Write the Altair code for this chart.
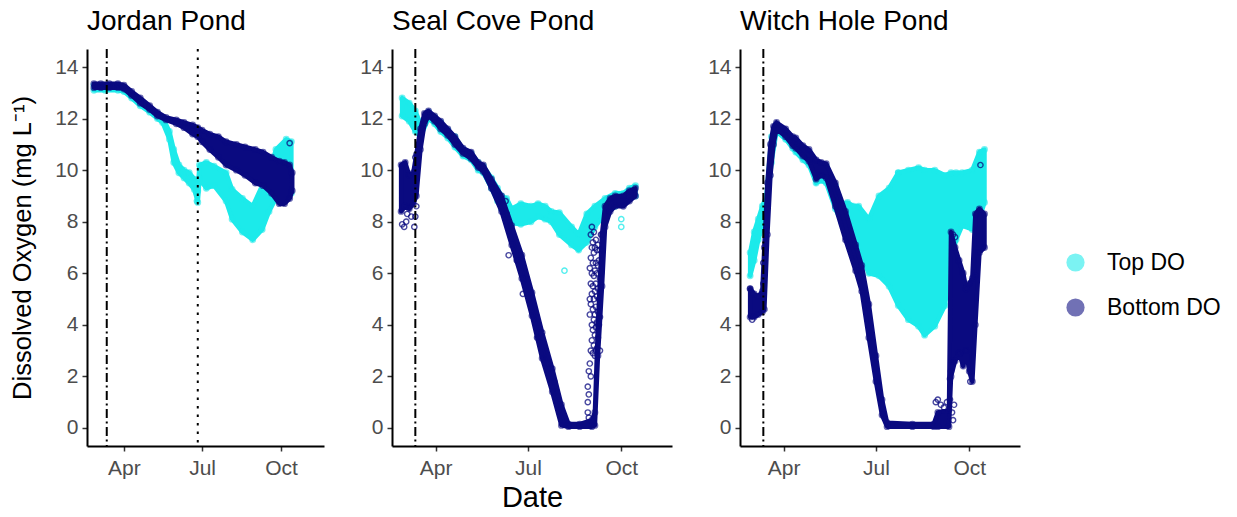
import altair as alt
import pandas as pd

YEAR = "2019-"
FONT = "Liberation Sans"
SERIES = ["Top DO", "Bottom DO"]
COLORS = ["#1CEAEA", "#0A0A80"]
X_TICKS = ["04-01", "07-01", "10-01"]
Y_TICKS = [0, 2, 4, 6, 8, 10, 12, 14]
EVENT_DASHDOT = "03-12"
EVENT_DOTTED = "06-26"

# ---------------- Jordan Pond ----------------
jordan_top_dates = ["02-25", "03-10", "03-25", "04-01", "04-10", "04-20", "05-01", "05-10", "05-16", "05-24",
                    "05-29", "06-04", "06-10", "06-16", "06-22", "06-26", "06-28", "07-06", "07-15", "07-29",
                    "08-05", "08-17", "08-29", "09-09", "09-17", "09-25", "10-07", "10-13"]
jordan_top_lo = [13.1, 13.1, 13.1, 13.05, 12.8, 12.5, 12.25, 12.0, 11.85, 11.2,
                 10.3, 9.9, 9.7, 9.5, 9.25, 8.75, 9.65, 9.3, 9.4, 8.8,
                 8.1, 7.6, 7.3, 7.7, 8.4, 8.9, 9.4, 9.1]
jordan_top_hi = [13.3, 13.25, 13.25, 13.2, 12.95, 12.7, 12.4, 12.2, 12.05, 11.5,
                 10.8, 10.2, 10.0, 9.9, 9.65, 9.2, 10.2, 10.3, 10.15, 9.9,
                 9.25, 8.9, 8.6, 9.4, 9.9, 10.8, 11.2, 11.1]
jordan_bot_dates = ["02-25", "03-05", "03-15", "03-25", "04-01", "04-10", "04-20", "05-01", "05-10", "05-20",
                    "06-01", "06-10", "06-20", "06-26", "07-01", "07-10", "07-20", "07-29", "08-10", "08-20",
                    "09-01", "09-10", "09-20", "09-29", "10-05", "10-11", "10-14"]
jordan_bot_lo = [13.2, 13.2, 13.2, 13.2, 13.15, 12.9, 12.6, 12.35, 12.1, 11.95,
                 11.8, 11.65, 11.4, 11.3, 11.1, 10.8, 10.5, 10.2, 10.0, 9.8,
                 9.5, 9.4, 9.1, 8.7, 8.7, 8.9, 9.2]
jordan_bot_hi = [13.35, 13.35, 13.35, 13.35, 13.3, 13.05, 12.8, 12.5, 12.25, 12.05,
                 11.95, 11.85, 11.75, 11.65, 11.55, 11.4, 11.3, 11.1, 11.0, 10.9,
                 10.8, 10.7, 10.5, 10.35, 10.3, 10.2, 9.9]
jordan_top_extra_dates = ["06-25", "06-25"]
jordan_top_extra_vals = [8.8, 9.1]
jordan_bot_extra_dates = ["10-11"]
jordan_bot_extra_vals = [11.05]

# ---------------- Seal Cove Pond ----------------
seal_top_dates = ["02-27", "03-06", "03-12", "03-17", "03-25", "03-31", "04-06", "04-13", "04-20", "04-28",
                  "05-06", "05-13", "05-18", "05-26", "06-01", "06-05", "06-10", "06-15", "06-24", "07-04",
                  "07-11", "07-18", "07-24", "08-01", "08-13", "08-20", "08-28", "09-05", "09-15", "09-25",
                  "10-03", "10-09", "10-15"]
seal_top_lo = [12.1, 11.9, 11.5, 11.3, 12.0, 11.8, 11.5, 11.25, 10.9, 10.55,
               10.4, 10.0, 9.9, 9.3, 8.8, 8.5, 8.1, 7.95, 7.9, 8.0,
               8.2, 8.1, 8.0, 7.5, 7.1, 6.9, 7.2, 7.8, 8.3, 8.6,
               8.7, 8.9, 9.0]
seal_top_hi = [12.8, 12.6, 12.3, 11.8, 12.25, 12.05, 11.85, 11.55, 11.3, 10.8,
               10.65, 10.3, 10.15, 9.7, 9.3, 9.0, 8.9, 8.5, 8.7, 8.6,
               8.7, 8.6, 8.4, 8.35, 7.8, 7.5, 8.3, 8.6, 8.9, 9.1,
               9.1, 9.3, 9.4]
seal_bot_dates = ["02-26", "03-02", "03-06", "03-10", "03-13", "03-17", "03-21", "03-25", "03-31", "04-06",
                  "04-13", "04-20", "04-28", "05-06", "05-13", "05-18", "05-26", "06-05", "06-15", "06-25",
                  "07-05", "07-15", "07-25", "08-03", "08-10", "08-21", "09-02", "09-05", "09-08", "09-12",
                  "09-15", "09-20", "09-25", "10-03", "10-09", "10-15"]
seal_bot_lo = [8.4, 8.6, 8.5, 8.7, 9.0, 10.8, 11.8, 12.1, 11.9, 11.6,
               11.35, 11.0, 10.65, 10.45, 10.1, 9.95, 9.3, 8.4, 7.1, 5.8,
               4.35, 2.7, 1.4, 0.1, 0.05, 0.05, 0.05, 0.1, 2.8, 5.5,
               7.8, 8.4, 8.6, 8.6, 8.8, 9.0]
seal_bot_hi = [10.2, 10.3, 9.8, 9.9, 10.6, 11.6, 12.2, 12.3, 12.1, 11.9,
               11.6, 11.3, 10.85, 10.7, 10.3, 10.2, 9.65, 9.0, 7.85, 6.7,
               5.25, 3.7, 2.3, 0.9, 0.15, 0.15, 0.3, 0.6, 4.0, 7.5,
               8.6, 8.9, 9.0, 9.0, 9.2, 9.3]
seal_top_extra_dates = ["08-06", "10-01", "10-01", "06-06"]
seal_top_extra_vals = [6.1, 7.8, 8.1, 8.8]
seal_bot_extra_dates = ["02-27", "03-01", "03-03", "03-11", "03-12", "03-08", "03-04", "03-13", "03-12",
                        "06-09", "06-10", "06-12", "06-20", "06-26", "07-10", "07-20", "07-27",
                        "08-29", "08-29", "08-29", "08-30", "08-30", "08-30",
                        "08-31", "08-31", "08-31", "08-31",
                        "09-01", "09-01", "09-01", "09-01", "09-01", "09-01",
                        "09-02", "09-02", "09-02", "09-02", "09-02", "09-02",
                        "09-03", "09-03", "09-03", "09-03", "09-03", "09-03",
                        "09-04", "09-04", "09-04", "09-04", "09-04", "09-04",
                        "09-05", "09-05", "09-05", "09-05", "09-05", "09-05",
                        "09-06", "09-06", "09-06", "09-06", "09-06", "09-06",
                        "09-07", "09-07", "09-07", "09-07", "09-07",
                        "09-08", "09-08", "09-08", "09-08", "09-08",
                        "09-09", "09-09", "09-09", "09-10", "09-10", "09-10", "09-10",
                        "09-11", "09-11"]
seal_bot_extra_vals = [7.9, 7.8, 8.0, 7.8, 8.2, 8.2, 8.3, 8.6, 10.5,
                       8.8, 8.3, 6.7, 6.5, 5.2, 3.5, 2.5, 1.8,
                       0.6, 1.0, 1.6, 2.2, 0.4, 1.3,
                       2.5, 5.0, 6.2, 4.4,
                       3.0, 5.6, 6.6, 7.5, 4.8, 2.0,
                       3.4, 6.0, 7.0, 5.2, 4.0, 7.8,
                       2.9, 4.6, 5.5, 6.4, 7.2, 3.8,
                       3.2, 4.2, 5.0, 5.9, 6.8, 7.6,
                       2.8, 3.6, 4.4, 5.3, 6.1, 7.0,
                       3.0, 3.9, 4.7, 5.6, 6.4, 7.3,
                       3.1, 4.1, 5.1, 6.0, 6.9,
                       3.5, 4.5, 5.4, 6.3, 7.1,
                       4.0, 5.0, 6.5, 3.0, 4.3, 5.8, 6.9,
                       6.0, 7.5]

# ---------------- Witch Hole Pond ----------------
witch_top_dates = ["02-27", "03-03", "03-07", "03-11", "03-15", "03-20", "03-25", "04-03", "04-10", "04-13",
                   "04-20", "04-26", "05-03", "05-08", "05-13", "05-22", "05-28", "06-03", "06-09", "06-14",
                   "06-24", "07-04", "07-14", "07-23", "08-02", "08-12", "08-18", "08-28", "09-07", "09-13",
                   "09-18", "09-24", "10-04", "10-11", "10-16"]
witch_top_lo = [5.9, 6.5, 7.3, 7.8, 8.3, 10.3, 11.5, 11.2, 10.85, 10.7,
                10.4, 10.2, 9.5, 9.6, 9.5, 8.5, 8.0, 7.9, 7.6, 6.8,
                6.0, 5.9, 5.5, 4.75, 4.2, 3.95, 3.6, 3.95, 4.75, 6.5,
                7.3, 7.85, 7.7, 8.1, 8.75]
witch_top_hi = [6.8, 7.6, 8.1, 8.6, 9.0, 11.3, 11.75, 11.5, 11.2, 11.1,
                10.85, 10.7, 10.3, 10.2, 10.15, 9.4, 8.7, 8.75, 8.6, 8.6,
                8.1, 9.0, 9.3, 9.9, 10.0, 10.1, 10.0, 10.0, 9.8, 9.9,
                9.9, 9.9, 10.0, 10.7, 10.8]
witch_bot_dates = ["02-27", "03-03", "03-07", "03-11", "03-13", "03-16", "03-19", "03-22", "03-25", "04-03",
                   "04-10", "04-13", "04-20", "04-26", "05-03", "05-08", "05-13", "05-22", "06-01", "06-11",
                   "06-17", "06-24", "07-01", "07-07", "07-12", "08-06", "08-27", "08-31", "09-11", "09-13",
                   "09-17", "09-21", "09-25", "09-28", "10-01", "10-04", "10-07", "10-11", "10-16"]
witch_bot_lo = [4.3, 4.3, 4.4, 4.5, 4.6, 7.5, 9.8, 11.0, 11.6, 11.3,
                10.95, 10.85, 10.55, 10.35, 9.65, 9.8, 9.7, 8.6, 7.3, 6.1,
                5.3, 3.5, 1.8, 0.5, 0.05, 0.05, 0.05, 0.05, 0.05, 2.0,
                2.6, 2.9, 2.4, 3.0, 2.2, 1.8, 4.0, 6.8, 7.0]
witch_bot_hi = [5.4, 5.2, 5.1, 5.3, 7.0, 9.5, 11.0, 11.7, 11.85, 11.6,
                11.3, 11.25, 10.95, 10.8, 10.4, 10.3, 10.25, 9.5, 8.4, 7.1,
                6.3, 4.8, 2.8, 1.1, 0.2, 0.15, 0.15, 0.6, 0.7, 7.6,
                7.0, 6.5, 6.0, 5.4, 5.6, 5.8, 8.3, 8.5, 8.3]
witch_top_extra_dates = ["07-23"]
witch_top_extra_vals = [9.9]
witch_bot_extra_dates = ["08-29", "08-31", "09-03", "09-06", "09-09", "09-12", "09-14", "09-15", "09-16",
                         "09-12", "09-13", "09-14", "09-15", "09-17", "10-02", "10-12", "10-07",
                         "02-27", "03-01", "03-12", "03-12"]
witch_bot_extra_vals = [1.0, 1.1, 0.9, 0.8, 1.0, 1.1, 0.6, 0.3, 0.9,
                        1.9, 2.2, 2.6, 7.5, 7.4, 1.8, 10.2, 5.9,
                        5.4, 4.2, 5.6, 6.4]


def band_frame(dates, lo, hi, series):
    return pd.DataFrame({"date": [YEAR + d for d in dates], "lo": lo, "hi": hi, "series": series})


def extra_frame(dates, vals, series):
    return pd.DataFrame({"date": [YEAR + d for d in dates], "val": vals, "series": series})


def dt(md):
    m, d = md.split("-")
    return alt.DateTime(year=2019, month=int(m), date=int(d), utc=True)


color_scale = alt.Scale(domain=SERIES, range=COLORS)


def panel(title, bands, extras, width, y_title, x_title, events, legend):
    x_axis = alt.Axis(values=[dt(v) for v in X_TICKS], format="%b", title=x_title,
                      titleFontSize=29, titleFont=FONT, titleFontWeight="normal", titleColor="black",
                      titlePadding=5)
    y_axis = alt.Axis(values=Y_TICKS, title=y_title, titleFontSize=25.5, titleFont=FONT,
                      titleFontWeight="normal", titleColor="black", titlePadding=19)
    xs = alt.Scale(type="utc", domain=[dt("02-17"), dt("11-20")])
    ys = alt.Scale(domain=[-0.7, 14.7], nice=False, zero=False)

    def X():
        return alt.X("date:T", scale=xs, axis=x_axis)

    def Y(field):
        return alt.Y(field, scale=ys, axis=y_axis)

    layers = []
    for s in SERIES:
        b = alt.Chart(bands).transform_filter(alt.datum.series == s)
        layers.append(
            b.mark_area(strokeWidth=4.5, strokeJoin="round", opacity=1).encode(
                x=X(), y=Y("lo:Q"), y2="hi:Q",
                fill=alt.Fill("series:N", scale=color_scale, legend=legend),
                stroke=alt.Stroke("series:N", scale=color_scale, legend=None),
            )
        )
        layers.append(
            b.transform_fold(["lo", "hi"], as_=["edge", "val"]).mark_point(
                filled=False, size=30, strokeWidth=1.4, opacity=0.6
            ).encode(
                x=X(), y=Y("val:Q"),
                stroke=alt.Stroke("series:N", scale=color_scale, legend=None),
            )
        )
        layers.append(
            alt.Chart(extras).transform_filter(alt.datum.series == s).mark_point(
                filled=False, size=28, strokeWidth=1.4, opacity=0.75
            ).encode(
                x=X(), y=Y("val:Q"),
                stroke=alt.Stroke("series:N", scale=color_scale, legend=None),
            )
        )
    ev = pd.DataFrame({"date": [YEAR + e[0] for e in events], "kind": [e[1] for e in events]})
    for kind, dash in [("dashdot", [9, 3.5, 2, 3.5]), ("dotted", [2.5, 6])]:
        layers.append(
            alt.Chart(ev).transform_filter(alt.datum.kind == kind).mark_rule(
                color="black", strokeWidth=2, strokeDash=dash
            ).encode(x=X())
        )
    return alt.layer(*layers).properties(
        width=width, height=397,
        title=alt.TitleParams(title, anchor="start", frame="group", fontSize=28, font=FONT,
                              fontWeight="normal", color="black", offset=12),
    )


legend = alt.Legend(title=None, orient="none", legendX=324, legendY=202, symbolType="circle",
                    symbolSize=330, symbolOpacity=0.58, symbolStrokeWidth=0, labelFontSize=23,
                    labelFont=FONT, labelColor="black", rowPadding=21, labelOffset=20, padding=0)

jordan_b = pd.concat([band_frame(jordan_top_dates, jordan_top_lo, jordan_top_hi, "Top DO"),
                      band_frame(jordan_bot_dates, jordan_bot_lo, jordan_bot_hi, "Bottom DO")])
jordan_e = pd.concat([extra_frame(jordan_top_extra_dates, jordan_top_extra_vals, "Top DO"),
                      extra_frame(jordan_bot_extra_dates, jordan_bot_extra_vals, "Bottom DO")])
seal_b = pd.concat([band_frame(seal_top_dates, seal_top_lo, seal_top_hi, "Top DO"),
                    band_frame(seal_bot_dates, seal_bot_lo, seal_bot_hi, "Bottom DO")])
seal_e = pd.concat([extra_frame(seal_top_extra_dates, seal_top_extra_vals, "Top DO"),
                    extra_frame(seal_bot_extra_dates, seal_bot_extra_vals, "Bottom DO")])
witch_b = pd.concat([band_frame(witch_top_dates, witch_top_lo, witch_top_hi, "Top DO"),
                     band_frame(witch_bot_dates, witch_bot_lo, witch_bot_hi, "Bottom DO")])
witch_e = pd.concat([extra_frame(witch_top_extra_dates, witch_top_extra_vals, "Top DO"),
                     extra_frame(witch_bot_extra_dates, witch_bot_extra_vals, "Bottom DO")])

p1 = panel("Jordan Pond", jordan_b, jordan_e, 237, "Dissolved Oxygen (mg L\u207b\u00b9)", None,
           [(EVENT_DASHDOT, "dashdot"), (EVENT_DOTTED, "dotted")], None)
p2 = panel("Seal Cove Pond", seal_b, seal_e, 280, None, "Date", [(EVENT_DASHDOT, "dashdot")], None)
p3 = panel("Witch Hole Pond", witch_b, witch_e, 280, None, None, [(EVENT_DASHDOT, "dashdot")], legend)

chart = alt.hconcat(p1, p2, p3, spacing=35).resolve_scale(
    fill="independent", stroke="independent"
).properties(
    padding={"left": 10, "top": 8, "right": 5, "bottom": 5}
).configure_view(stroke=None).configure_axis(
    grid=False, domainColor="black", domainWidth=2, tickColor="#333333", tickWidth=1.5, tickSize=5,
    labelFont=FONT, labelFontSize=21, labelColor="#4D4D4D", labelPadding=4
).configure_axisX(labelPadding=6)

chart.save("out.html", embed_options={"renderer": "svg", "actions": False})
